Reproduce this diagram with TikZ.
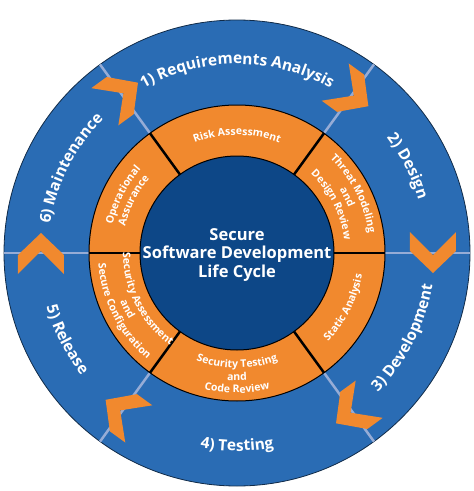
\documentclass[tikz,border=0pt]{standalone}
\usepackage{fontspec}
\setmainfont{Open Sans}
\usetikzlibrary{decorations.text}

\definecolor{ringblue}{RGB}{42,108,180}
\definecolor{coreblue}{RGB}{13,71,135}
\definecolor{stageorange}{RGB}{241,137,46}
\definecolor{sepgray}{RGB}{150,172,214}

\newcommand{\stagefont}{\fontsize{15.5}{18}\selectfont\bfseries}
\newcommand{\taskfont}{\fontsize{10.5}{12}\selectfont\bfseries}

% text on an arc: clockwise for the top half, anticlockwise for the bottom half
\newcommand{\uptext}[4]{%
  \path[decorate, decoration={text along path, text align=center, text color=white, text={|#3|#4}}]
    (#1+45:#2) arc[start angle=#1+45, end angle=#1-45, radius=#2];}
\newcommand{\lowtext}[4]{%
  \path[decorate, decoration={text along path, text align=center, text color=white, text={|#3|#4}}]
    (#1-45:#2) arc[start angle=#1-45, end angle=#1+45, radius=#2];}
% orange chevron on a stage boundary, pointing clockwise
\newcommand{\chevron}[1]{%
  \fill[stageorange, shift={(#1:196)}, rotate=#1-90]
    (20,0) -- (-2,23) -- (-21,23) -- (2,0) -- (-21,-23) -- (-2,-23) -- cycle;}

\begin{document}
\begin{tikzpicture}[x=1pt, y=1pt,
    sep/.style={sepgray, line width=2.5pt},
    cut/.style={black, line width=2.5pt},
    title/.style={align=center, text=white, font=\fontsize{16.5}{18.5}\selectfont\bfseries}]
  \useasboundingbox (-237,-238) rectangle (237,253);

  % Outer ring (stages)
  \fill[ringblue, draw=black!60!ringblue, line width=0.8pt] (0,0) circle[radius=233];
  \foreach \a in {0,54,126,180,234,306}
    \draw[sep] (\a:148) -- (\a:233);
  \foreach \a in {0,54,126,180,234,306}
    \chevron{\a};

  % Middle ring (security tasks)
  \fill[stageorange, draw=black, line width=1pt] (0,0) circle[radius=148];
  \foreach \a in {0,54,126,180,234,306}
    \draw[cut] (\a:97) -- (\a:148);

  % Core
  \fill[coreblue, draw=black, line width=1pt] (0,0) circle[radius=97];
  \node[title] (core) at (0,-2) {Secure\\Software Development\\Life Cycle};

  % Stage labels
  \uptext{90}{189}{\stagefont}{1) Requirements Analysis}
  \uptext{27}{189}{\stagefont}{2) Design}
  \lowtext{-27}{198}{\stagefont}{3) Development}
  \lowtext{-90}{198}{\stagefont}{4) Testing}
  \lowtext{-153}{198}{\stagefont}{5) Release}
  \uptext{153}{189}{\stagefont}{6) Maintenance}

  % Task labels
  \uptext{90}{118}{\taskfont}{Risk Assessment}
  \uptext{27}{133}{\taskfont}{Threat Modeling}
  \uptext{27}{120.5}{\taskfont}{and}
  \uptext{27}{108}{\taskfont}{Design Review}
  \lowtext{-27}{127}{\taskfont}{Static Analysis}
  \lowtext{-90}{115}{\taskfont}{Security Testing}
  \lowtext{-90}{127.5}{\taskfont}{and}
  \lowtext{-90}{140}{\taskfont}{Code Review}
  \lowtext{-153}{114}{\taskfont}{Security Assessment}
  \lowtext{-153}{126.5}{\taskfont}{and}
  \lowtext{-153}{139}{\taskfont}{Secure Configuration}
  \uptext{153}{127.5}{\taskfont}{Operational}
  \uptext{153}{115}{\taskfont}{Assurance}
\end{tikzpicture}
\end{document}
